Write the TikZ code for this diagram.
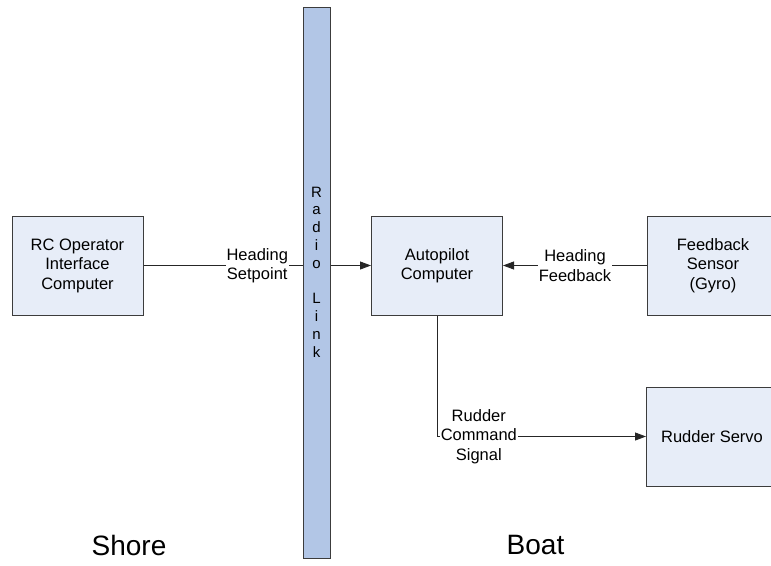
\documentclass[tikz,border=0pt]{standalone}
\usepackage{fontspec}
\setmainfont{Liberation Sans}
\usepackage{xcolor}
\usepackage{tikz}
\usetikzlibrary{arrows.meta,calc,positioning,shapes}

\definecolor{boxfill}{RGB}{231,237,248}
\definecolor{barfill}{RGB}{178,198,230}
\definecolor{edgegray}{RGB}{60,60,60}

\tikzset{
  block/.style={draw=edgegray, line width=1pt, fill=boxfill, align=center,
    minimum width=131pt, minimum height=99pt, inner sep=0pt,
    font=\fontsize{16.5}{19.5}\selectfont},
  sig/.style={line width=0.9pt, draw=black!85,
    -{Triangle[length=11pt,width=8pt]}},
  siglabel/.style={fill=white, align=center, inner sep=1pt,
    font=\fontsize{16.5}{19.5}\selectfont},
  side/.style={font=\fontsize{28}{32}\selectfont, inner sep=0pt}
}

\begin{document}
\begin{tikzpicture}[x=1pt,y=-1pt]
  \useasboundingbox (0,0) rectangle (771,565);
  \clip (0,0) rectangle (771,565);
  % blocks
  \node[block] (rc) at (77.5,265.5) {RC Operator\\Interface\\Computer};
  \node[block] (auto) at (437,265.5) {Autopilot\\Computer};
  \node[block] (gyro) at (713,265.5) {Feedback\\Sensor\\(Gyro)};
  \node[block] (servo) at (712,436.5) {Rudder Servo};
  % signals
  \draw[sig] (rc) -- node[siglabel]{Heading\\Setpoint} (auto);
  \draw[sig] (gyro) -- node[siglabel]{Heading\\Feedback} (auto);
  \draw[sig] (auto.south) |- node[siglabel,pos=0.6]{Rudder\\Command\\Signal} (servo.west);
  % radio link
  \node[draw=edgegray, line width=1pt, fill=barfill, minimum width=27pt,
    minimum height=551pt, inner sep=0pt] (radio) at (316.5,282.5) {};
  \node[align=center, inner sep=0pt, font=\fontsize{15}{17.8}\selectfont]
    (radiotext) at (316.5,272) {R\\a\\d\\i\\o\\\mbox{}\\L\\i\\n\\k};
  % sides
  \node[side] (shore) at (129,545) {Shore};
  \node[side] (boat) at (535.5,545) {Boat};
\end{tikzpicture}
\end{document}
